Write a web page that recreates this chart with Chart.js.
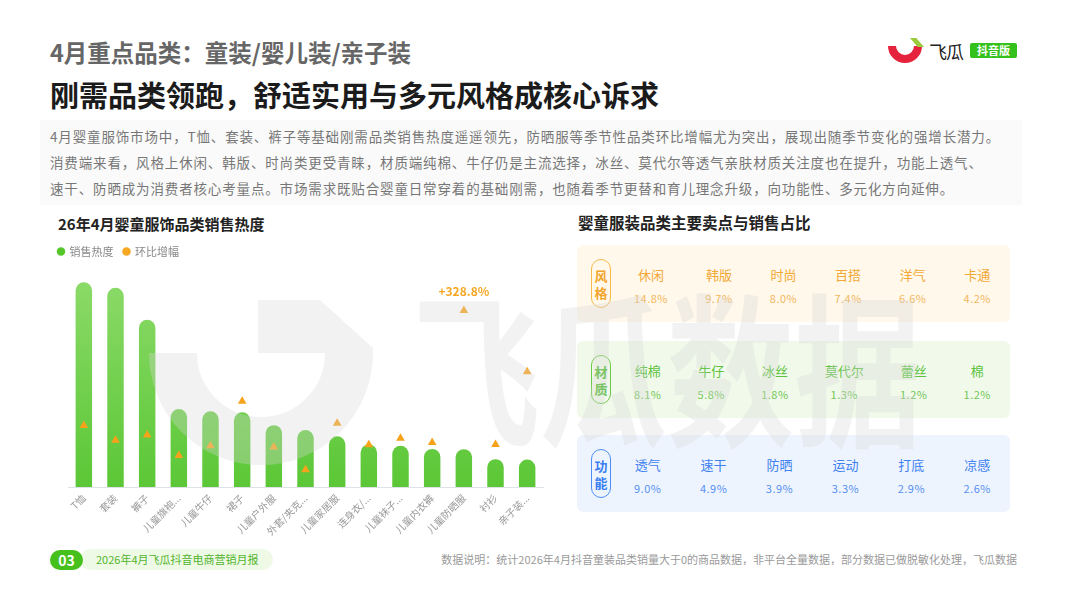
<!DOCTYPE html>
<html lang="zh-CN">
<head>
<meta charset="utf-8">
<title>4月重点品类：童装/婴儿装/亲子装</title>
<script src="https://cdn.jsdelivr.net/npm/chart.js@4.4.1/dist/chart.umd.min.js"></script>
<style>
  html, body { margin: 0; padding: 0; background: #fff; }
  body { width: 1067px; height: 600px; position: relative; overflow: hidden;
         font-family: "Noto Sans CJK SC", "Noto Sans", sans-serif; }
  .abs { position: absolute; }
  .kicker { left: 50px; top: 39px; font-size: 23.5px; line-height: 26px; font-weight: 700; color: #666; white-space: nowrap; }
  .headline { left: 50px; top: 76px; font-size: 29px; line-height: 36px; font-weight: 700; color: #1b1b1b; white-space: nowrap; }
  .summary { left: 40px; top: 120px; width: 982px; height: 85px; background: #fafafa; }
  .summary p { margin: 0; padding: 3px 0 0 10px; font-size: 13.5px; line-height: 26px; letter-spacing: 0.85px; color: #777; white-space: nowrap; }
  .sec-title { font-size: 15px; line-height: 20px; font-weight: 700; color: #222; white-space: nowrap; }
  #chartBox { left: 40px; top: 236px; width: 520px; height: 312px; z-index: 1; }
  .card { left: 577px; width: 433px; height: 77px; border-radius: 6px; z-index: 1; }
  .badge { position: absolute; left: 14px; top: 14px; width: 18px; height: 47px; border: 1.5px solid; border-radius: 11px;
           display: flex; flex-direction: column; align-items: center; justify-content: center;
           font-size: 13px; line-height: 17px; font-weight: 700; }
  .items { position: absolute; left: 57px; right: 19px; top: 19px; display: flex; justify-content: space-between; }
  .item { display: flex; flex-direction: column; align-items: center; white-space: nowrap; }
  .item .tag { font-size: 13px; line-height: 22px; }
  .item .val { font-size: 11px; line-height: 16px; margin-top: 4px; letter-spacing: 0.5px; }
  .orange { background: #fff8eb; }
  .orange .badge { border-color: #f6b94a; color: #f2a62b; }
  .orange .tag { color: #f2a835; } .orange .val { color: #f3b75c; }
  .green { background: #f1faea; }
  .green .badge { border-color: #6dc84b; color: #4cb92a; }
  .green .tag { color: #5cc23e; } .green .val { color: #72c657; }
  .blue { background: #eef4fe; }
  .blue .badge { border-color: #4d8ef5; color: #3a7ef0; }
  .blue .tag { color: #3f82f0; } .blue .val { color: #5890f2; }
  .wm { position: absolute; pointer-events: none; z-index: 5; }
  .wm-text { left: 413px; top: 280px; font-size: 165px; line-height: 1; font-weight: 700; color: rgba(215,215,215,0.33);
             transform: scaleX(0.77); transform-origin: 0 0; white-space: nowrap; }
  .wm-ring { left: 149px; top: 241px; width: 224px; height: 224px; box-sizing: border-box; border: 48px solid rgba(215,215,215,0.33);
             border-radius: 50%; clip-path: inset(112px 0 0 0); }
  .wm-leaf { left: 258px; top: 300px; width: 115px; height: 53px; background: rgba(215,215,215,0.33);
             clip-path: polygon(0 0, 62px 0, 115px 48px, 115px 53px, 0 53px); }
  .logo-ring { left: 888px; top: 29px; width: 34px; height: 34px; box-sizing: border-box; border: 8px solid #e5233d; border-radius: 50%;
               clip-path: inset(17px 0 0 0); }
  .logo-leaf { left: 910px; top: 38px; width: 14px; height: 9px; background: #9bcb3b; clip-path: polygon(0 0, 45% 0, 100% 100%, 55% 100%); }
  .logo-name { left: 929px; top: 39px; font-size: 18px; line-height: 24px; color: #222; letter-spacing: -1px; }
  .logo-tag { left: 970px; top: 43px; width: 47px; height: 15px; background: #35c11b; color: #fff; font-size: 11px; line-height: 15px;
              font-weight: 700; text-align: center; border-radius: 2px; }
  .pg-num { left: 50px; top: 550px; width: 33px; height: 20px; border-radius: 10px; background: #46c01d; color: #fff;
            font-size: 14px; line-height: 20px; font-weight: 700; text-align: center; z-index: 2; }
  .pg-pill { left: 80px; top: 549px; width: 193px; height: 21px; border-radius: 11px; background: #eef9e6; color: #52b52c;
             font-size: 11px; line-height: 21px; padding-left: 16px; box-sizing: border-box; white-space: nowrap; }
  .note { right: 50px; top: 550px; font-size: 11px; line-height: 18px; color: #9a9a9a; white-space: nowrap; }
</style>
</head>
<body>
<div class="abs kicker">4月重点品类：童装/婴儿装/亲子装</div>
<div class="abs headline">刚需品类领跑，舒适实用与多元风格成核心诉求</div>
<div class="abs logo-ring"></div>
<div class="abs logo-leaf"></div>
<div class="abs logo-name">飞瓜</div>
<div class="abs logo-tag">抖音版</div>

<div class="abs summary"><p>4月婴童服饰市场中，T恤、套装、裤子等基础刚需品类销售热度遥遥领先，防晒服等季节性品类环比增幅尤为突出，展现出随季节变化的强增长潜力。<br>消费端来看，风格上休闲、韩版、时尚类更受青睐，材质端纯棉、牛仔仍是主流选择，冰丝、莫代尔等透气亲肤材质关注度也在提升，功能上透气、<br>速干、防晒成为消费者核心考量点。市场需求既贴合婴童日常穿着的基础刚需，也随着季节更替和育儿理念升级，向功能性、多元化方向延伸。</p></div>

<div class="abs sec-title" style="left:58px; top:214px;">26年4月婴童服饰品类销售热度</div>
<div class="abs" id="chartBox"><canvas id="heatChart"></canvas></div>

<div class="abs sec-title" style="left:578px; top:212px; font-size:15.5px;">婴童服装品类主要卖点与销售占比</div>
<div id="cards"></div>

<div class="wm wm-ring"></div>
<div class="wm wm-leaf"></div>
<div class="wm wm-text">飞瓜数据</div>

<div class="abs pg-num">03</div>
<div class="abs pg-pill">2026年4月飞瓜抖音电商营销月报</div>
<div class="abs note">数据说明：统计2026年4月抖音童装品类销量大于0的商品数据，非平台全量数据，部分数据已做脱敏化处理，飞瓜数据</div>

<script>
// 品类销售热度（相对值）与环比增幅（%）
const categories = ['T恤', '套装', '裤子', '儿童旗袍...', '儿童牛仔', '裙子', '儿童户外服', '外套/夹克...',
                    '儿童家居服', '连身衣/...', '儿童袜子...', '儿童内衣裤', '儿童防晒服', '衬衫', '亲子装...'];
const salesHeat = [100, 97.3, 81.7, 38.1, 37.0, 36.5, 30.2, 27.8, 24.8, 20.8, 20.1, 18.6, 18.5, 13.6, 13.4];
const momGrowth = [114.7, 86.9, 97.1, 58.6, 76.9, 160.0, 74.4, 32.1, 119.0, 78.8, 90.7, 83.1, 328.8, 79.4, 214.8];

// 卖点与销售占比（%）
const styleTags = ['休闲', '韩版', '时尚', '百搭', '洋气', '卡通'];
const styleShare = [14.8, 9.7, 8.0, 7.4, 6.6, 4.2];
const materialTags = ['纯棉', '牛仔', '冰丝', '莫代尔', '蕾丝', '棉'];
const materialShare = [8.1, 5.8, 1.8, 1.3, 1.2, 1.2];
const functionTags = ['透气', '速干', '防晒', '运动', '打底', '凉感'];
const functionShare = [9.0, 4.9, 3.9, 3.3, 2.9, 2.6];

const FONT = '"Noto Sans CJK SC", "Noto Sans", sans-serif';

// right-hand cards
function addCard(name, tags, shares, cls, top) {
    const card = document.createElement('div');
    card.className = 'abs card ' + cls;
    card.style.top = top + 'px';
    let html = '<div class="badge"><span>' + name[0] + '</span><span>' + name[1] + '</span></div><div class="items">';
    tags.forEach(function (t, i) {
        html += '<div class="item"><span class="tag">' + t + '</span><span class="val">' + shares[i].toFixed(1) + '%</span></div>';
    });
    card.innerHTML = html + '</div>';
    document.getElementById('cards').appendChild(card);
}
addCard('风格', styleTags, styleShare, 'orange', 245);
addCard('材质', materialTags, materialShare, 'green', 341);
addCard('功能', functionTags, functionShare, 'blue', 435);

// green gradient for bars
function barFill(context) {
    const chart = context.chart;
    const area = chart.chartArea;
    if (!area) return '#6fd04a';
    const g = chart.ctx.createLinearGradient(0, area.top, 0, area.bottom);
    g.addColorStop(0, '#8edb6b');
    g.addColorStop(1, '#5bc736');
    return g;
}

const legendColors = ['#55c52c', '#f7a823'];

// label over the biggest growth marker
const peakLabel = {
    id: 'peakLabel',
    afterDatasetsDraw(chart) {
        const i = momGrowth.indexOf(Math.max.apply(null, momGrowth));
        const pt = chart.getDatasetMeta(1).data[i];
        if (!pt) return;
        const c = chart.ctx;
        c.save();
        c.font = '700 12px ' + FONT;
        c.fillStyle = '#f5a623';
        c.textAlign = 'center';
        c.textBaseline = 'middle';
        c.fillText('+' + momGrowth[i].toFixed(1) + '%', pt.x, pt.y - 19);
        c.restore();
    }
};

const ctx = document.getElementById('heatChart').getContext('2d');
new Chart(ctx, {
    type: 'bar',
    data: {
        labels: categories,
        datasets: [{
            label: '销售热度',
            data: salesHeat,
            backgroundColor: barFill,
            borderRadius: 10,
            borderSkipped: 'bottom',
            barPercentage: 0.52,
            categoryPercentage: 1,
            yAxisID: 'y',
            order: 2
        }, {
            type: 'line',
            label: '环比增幅',
            data: momGrowth,
            yAxisID: 'y2',
            showLine: false,
            pointStyle: 'triangle',
            pointRadius: 5,
            pointHoverRadius: 5,
            backgroundColor: '#f7a21b',
            borderColor: '#f7a21b',
            borderWidth: 0,
            order: 1
        }]
    },
    options: {
        responsive: true,
        maintainAspectRatio: false,
        animation: false,
        layout: { padding: { left: 8, right: 17, top: 0, bottom: 3 } },
        plugins: {
            legend: {
                position: 'top',
                align: 'start',
                labels: {
                    usePointStyle: true,
                    pointStyle: 'circle',
                    boxWidth: 6,
                    boxHeight: 6,
                    padding: 10,
                    color: '#888',
                    font: { size: 11, family: FONT },
                    generateLabels: function (chart) {
                        const items = Chart.defaults.plugins.legend.labels.generateLabels(chart);
                        items.sort(function (a, b) { return a.datasetIndex - b.datasetIndex; });
                        items.forEach(function (it) {
                            it.fillStyle = legendColors[it.datasetIndex];
                            it.strokeStyle = legendColors[it.datasetIndex];
                            it.lineWidth = 0;
                            it.pointStyle = 'circle';
                        });
                        return items;
                    }
                }
            },
            tooltip: { enabled: true }
        },
        scales: {
            x: {
                grid: { display: false, drawTicks: false },
                border: { display: true, color: '#dde1e8' },
                ticks: {
                    color: '#999',
                    font: { size: 10, family: FONT },
                    minRotation: 45,
                    maxRotation: 45,
                    autoSkip: false,
                    padding: 5
                },
                afterFit: function (s) { s.height = 58; }
            },
            y: {
                display: true,
                min: 0,
                max: 107.5,
                grid: { display: false },
                border: { display: false },
                ticks: { display: false },
                afterFit: function (s) { s.width = 20; }
            },
            y2: { display: false, min: 0, max: 410 }
        }
    },
    plugins: [peakLabel]
});
</script>
</body>
</html>
